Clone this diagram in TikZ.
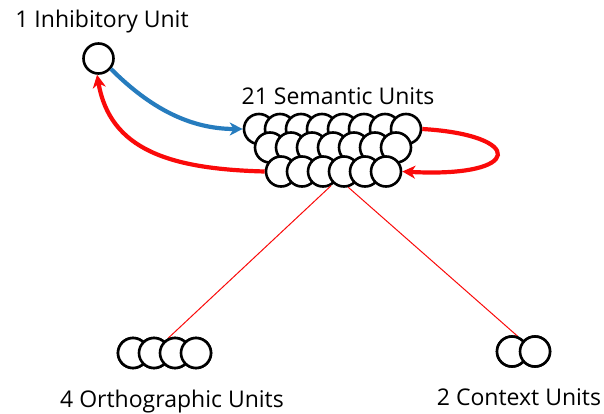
\documentclass[tikz,border=0pt]{standalone}
\usepackage{fontspec}
\setmainfont{Open Sans}
\usetikzlibrary{arrows.meta}
\definecolor{arrblue}{RGB}{38,124,190}
\definecolor{arrred}{RGB}{250,10,10}
\begin{document}
\begin{tikzpicture}[x=1pt,y=-1pt,
  unit/.style={circle,draw=black,fill=white,line width=2.6pt,minimum size=30pt,inner sep=0pt},
  lbl/.style={anchor=base,font=\fontsize{23}{25}\selectfont,inner sep=0pt},
  thick arrow/.style={line width=4.2pt,-{Stealth[length=13pt,width=13pt,inset=4pt]}},
  thinlink/.style={draw=arrred,line width=1pt}]
\useasboundingbox (0,0) rectangle (604,414);
% thin links first (behind the units)
\coordinate (t1) at (331,186);
\coordinate (t2) at (348,187);
% semantic units
\foreach \i in {0,...,7} \node[unit] (s1\i) at ({259+21*\i},129) {};
\foreach \i in {0,...,6} \node[unit] (s2\i) at ({270+21*\i},147.5) {};
\foreach \i in {0,...,5} \node[unit] (s3\i) at ({281+21*\i},171.5) {};
% inhibitory unit
\node[unit] (inh) at (98.5,58.5) {};
% orthographic units
\foreach \i in {0,...,3} \node[unit] (o\i) at ({133+21*\i},353) {};
% context units
\node[unit] (c0) at (512,351.5) {};
\node[unit] (c1) at (535,351.5) {};
% labels
\node[lbl] (linh) at (102,28) {1 Inhibitory Unit};
\node[lbl] (lsem) at (338,105) {21 Semantic Units};
\node[lbl] (lort) at (172,407) {4 Orthographic Units};
\node[lbl] (lctx) at (519,405) {2 Context Units};
% thin links
\draw[thinlink] (s32.-60) -- (o2.115);
\draw[thinlink] (s33.-75) -- (c0.70);
% redraw circles over the thin links
\foreach \i in {0,...,3} \node[unit] at (o\i) {};
\node[unit] at (c0) {};
\node[unit] at (c1) {};
% arrows
\draw[thick arrow,draw=arrblue] (inh.-40) .. controls (150,108) and (190,129) .. (s10.west);
\draw[thick arrow,draw=arrred] (s30.west) .. controls (170,169) and (110,150) .. (inh.-95);
\draw[thick arrow,draw=arrred] (s17.east) .. controls (525,135) and (525,178) .. (s35.east);
\end{tikzpicture}
\end{document}
